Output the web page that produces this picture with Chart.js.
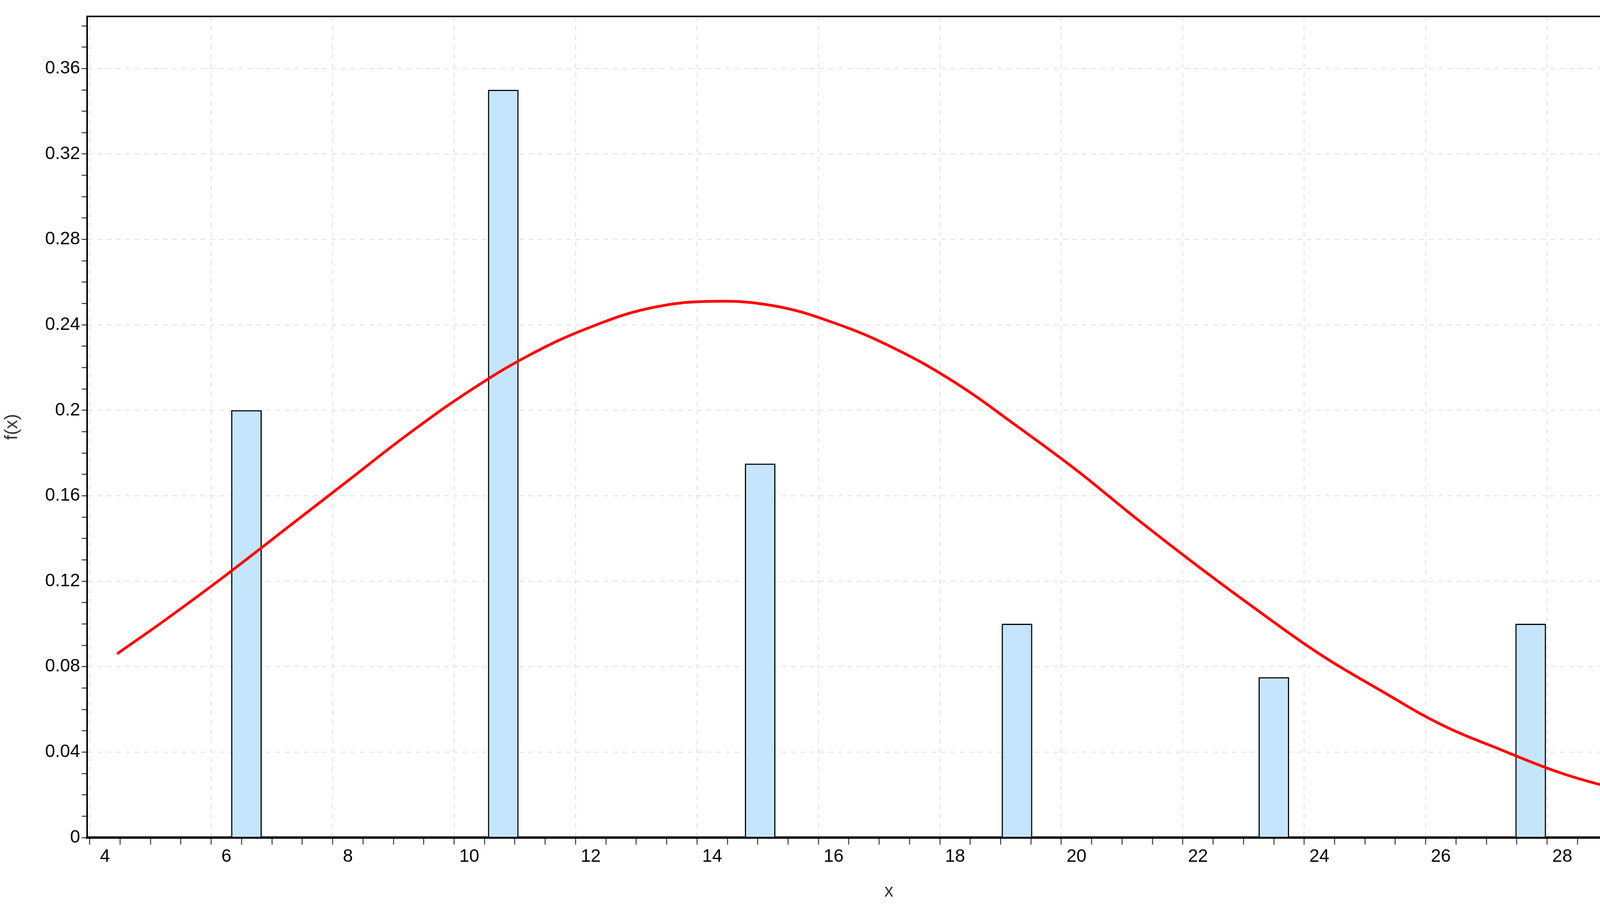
<!DOCTYPE html>
<html>
<head>
<meta charset="utf-8">
<script src="https://cdn.jsdelivr.net/npm/chart.js@4.4.1/dist/chart.umd.min.js"></script>
<style>
  html, body { margin: 0; padding: 0; background: #fff; }
  #wrap { width: 4364px; height: 2313px; }
</style>
</head>
<body>
<div id="wrap"><canvas id="chart" width="4364" height="2313"></canvas></div>
<script>
// ============================================================================
// Data
// ============================================================================
const binCenters = [6.33, 10.56, 14.79, 19.02, 23.25, 27.48];
const binHeights = [0.2, 0.35, 0.175, 0.1, 0.075, 0.1];

const curveX = [4.2, 5, 6, 7, 8, 9, 10, 11, 12, 13, 14, 15, 16, 17, 18, 19, 20, 21, 22, 23, 24, 25, 26, 27, 28, 29, 29.6];
const curveY = [0.086, 0.102, 0.123, 0.145, 0.167, 0.189, 0.209, 0.226, 0.239, 0.248, 0.251, 0.249, 0.241, 0.229, 0.213, 0.193, 0.172, 0.149, 0.127, 0.106, 0.086, 0.069, 0.053, 0.041, 0.030, 0.022, 0.018];

const xMajorTicks = [4, 6, 8, 10, 12, 14, 16, 18, 20, 22, 24, 26, 28];
const yMajorTicks = ['0', '0.04', '0.08', '0.12', '0.16', '0.2', '0.24', '0.28', '0.32', '0.36'];

// ============================================================================
// Helpers
// ============================================================================
const FONT = "'Liberation Sans Narrow', 'Arial Narrow', 'Liberation Sans', Arial, sans-serif";

function isMajorX(v) {
    return xMajorTicks.some(t => Math.abs(t - v) < 1e-6);
}
function isMajorY(v) {
    return yMajorTicks.some(t => Math.abs(parseFloat(t) - v) < 1e-6);
}

const frameBorder = {
    id: 'frameBorder',
    afterDraw(chart) {
        const { ctx, chartArea: a } = chart;
        ctx.save();
        ctx.strokeStyle = '#000';
        ctx.lineWidth = 4;
        ctx.strokeRect(a.left, a.top, a.right - a.left, a.bottom - a.top);
        ctx.restore();
    }
};

// ============================================================================
// Chart
// ============================================================================
new Chart(document.getElementById('chart'), {
    data: {
        datasets: [
            {
                type: 'line',
                label: 'f(x)',
                data: curveX.map((x, i) => ({ x: x, y: curveY[i] })),
                borderColor: '#ff0000',
                borderWidth: 7,
                pointRadius: 0,
                tension: 0.4,
                fill: false,
                order: 0
            },
            {
                type: 'bar',
                label: 'Histogram',
                data: binCenters.map((x, i) => ({ x: x, y: binHeights[i] })),
                backgroundColor: '#c4e5fb',
                borderColor: '#000',
                borderWidth: 3,
                barPercentage: 1,
                categoryPercentage: 1,
                order: 1
            }
        ]
    },
    options: {
        responsive: false,
        animation: false,
        devicePixelRatio: 1,
        layout: { padding: { top: 42, right: 36, left: 0, bottom: 0 } },
        plugins: {
            legend: { display: false },
            tooltip: { enabled: false }
        },
        scales: {
            x: {
                type: 'linear',
                min: 3.96,
                max: 29.86,
                afterBuildTicks: scale => {
                    const ticks = [];
                    for (let i = 8; i <= 59; i++) ticks.push({ value: i / 2 });
                    scale.ticks = ticks;
                },
                afterFit: scale => { scale.height = 170; },
                ticks: {
                    autoSkip: false,
                    maxRotation: 0,
                    color: '#000',
                    font: { family: FONT, size: 46 },
                    padding: 4,
                    callback: v => isMajorX(v) ? String(v) : ''
                },
                grid: {
                    color: ctx => (ctx.tick && isMajorX(ctx.tick.value)) ? '#e6e6e6' : 'rgba(0,0,0,0)',
                    tickColor: '#555',
                    tickLength: 18,
                    lineWidth: 3
                },
                border: { color: '#000', width: 6, dash: [12, 12] },
                title: {
                    display: true,
                    text: 'x',
                    color: '#333',
                    font: { family: FONT, size: 46 },
                    padding: { top: 0 }
                }
            },
            y: {
                type: 'linear',
                min: 0,
                max: 0.3844,
                afterBuildTicks: scale => {
                    const ticks = [];
                    for (let i = 0; i <= 38; i++) ticks.push({ value: i / 100 });
                    scale.ticks = ticks;
                },
                afterFit: scale => { scale.width = 223; },
                ticks: {
                    autoSkip: false,
                    color: '#000',
                    font: { family: FONT, size: 46 },
                    padding: 4,
                    callback: v => {
                        const t = yMajorTicks.find(s => Math.abs(parseFloat(s) - v) < 1e-6);
                        return t !== undefined ? t : '';
                    }
                },
                grid: {
                    color: ctx => (ctx.tick && isMajorY(ctx.tick.value)) ? '#e6e6e6' : 'rgba(0,0,0,0)',
                    tickColor: '#555',
                    tickLength: 14,
                    lineWidth: 3
                },
                border: { color: '#000', width: 4, dash: [12, 12] },
                title: {
                    display: true,
                    text: 'f(x)',
                    color: '#333',
                    font: { family: FONT, size: 46 },
                    padding: { bottom: 0 }
                }
            }
        }
    },
    plugins: [frameBorder]
});
</script>
</body>
</html>
